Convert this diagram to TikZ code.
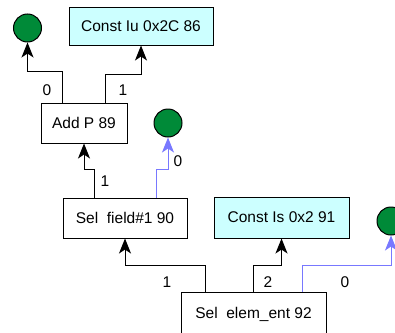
\documentclass[tikz,border=0pt]{standalone}
\usepackage{fontspec}
\setmainfont{Liberation Sans}
\usetikzlibrary{arrows.meta}
\definecolor{constfill}{RGB}{204,255,255}
\definecolor{leafgreen}{RGB}{0,138,56}
\definecolor{linkblue}{RGB}{120,120,255}
\tikzset{
  opbox/.style={draw=black, line width=1pt, fill=white, inner sep=0pt,
    font=\fontsize{15.5}{18}\selectfont},
  constbox/.style={opbox, fill=constfill},
  leaf/.style={circle, draw=black, line width=1pt, fill=leafgreen,
    minimum size=28pt, inner sep=0pt},
  edgelbl/.style={inner sep=0pt, font=\fontsize{15.5}{18}\selectfont},
  arr/.style={line width=1pt, -{Stealth[length=15pt,width=12pt,inset=4pt]}},
  blarr/.style={arr, draw=linkblue, color=linkblue},
}
\begin{document}
\begin{tikzpicture}[x=1pt, y=-1pt]
\useasboundingbox (0,0) rectangle (395,332);
% nodes
\node[leaf] (g1) at (27.5,28) {};
\node[constbox, minimum width=144pt, minimum height=38pt] (c86) at (141,26) {Const Iu 0x2C 86};
\node[opbox, minimum width=86pt, minimum height=40pt] (add) at (84,123) {Add P 89};
\node[leaf] (g2) at (168,123) {};
\node[opbox, minimum width=124pt, minimum height=40pt] (sf) at (125,218) {Sel\ \ field\#1 90};
\node[constbox, minimum width=135pt, minimum height=41pt] (c91) at (281.5,217.5) {Const Is 0x2 91};
\node[leaf] (g3) at (391,221) {};
% bottom node runs past the lower edge of the page
\node[opbox, minimum width=145pt, minimum height=44pt] (se) at (253.5,314) {\raisebox{2pt}{Sel\ \ elem\_ent 92}};
% connectors
\draw[arr] ([xshift=22pt]add.north west) -- ++(0,-31) -| (g1.south);
\draw[arr] ([xshift=65pt]add.north west) -- ++(0,-28) -| (c86.south);
\draw[arr] ([xshift=32pt]sf.north west) -- ++(0,-28) -| (add.south);
\draw[blarr] ([xshift=94pt]sf.north west) -- ++(0,-28) -| (g2.south);
\draw[arr] ([xshift=25pt]se.north west) -- ++(0,-26) -| (sf.south);
\draw[arr] (se.north) -- ++(0,-26) -| (c91.south);
\draw[blarr] ([xshift=122pt]se.north west) -- ++(0,-26) -| (g3.south);
% port labels
\node[edgelbl] (l1) at (47,90) {0};
\node[edgelbl] (l2) at (123,90) {1};
\node[edgelbl] (l3) at (105,181) {1};
\node[edgelbl] (l4) at (178,161) {0};
\node[edgelbl] (l5) at (167,282) {1};
\node[edgelbl] (l6) at (268,282) {2};
\node[edgelbl] (l7) at (345,282) {0};
\end{tikzpicture}
\end{document}
